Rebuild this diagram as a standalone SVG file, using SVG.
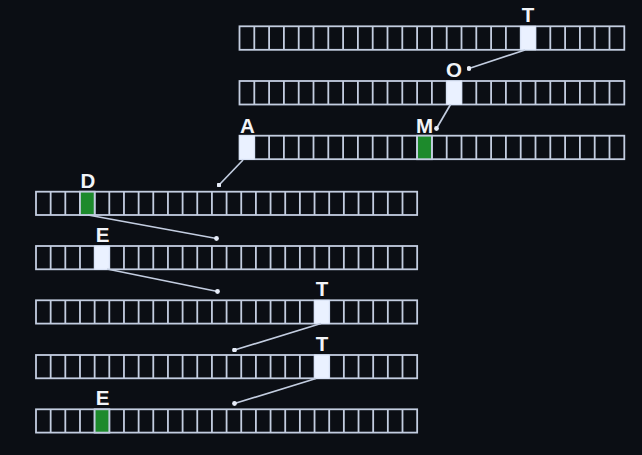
<svg xmlns="http://www.w3.org/2000/svg" xmlns:xlink="http://www.w3.org/1999/xlink" width="642" height="455" viewBox="0 0 642 455">
<style>
.frame{fill:none;stroke:#c3cde0;stroke-width:1.8}
.hw{fill:#eaf1ff;stroke:#dce6f8;stroke-width:1}
.hg{fill:#1d8a2c;stroke:#c3cde0;stroke-width:1.8}
.lbl{font-family:"Liberation Sans","DejaVu Sans",Arial,sans-serif;font-weight:bold;font-size:20.5px;fill:#f2f4f8;text-anchor:middle}
.conn{fill:none;stroke:#c3cde0;stroke-width:1.7;marker-end:url(#dot)}
</style>
<defs>
<marker id="dot" viewBox="0 0 6 6" refX="3" refY="3" markerWidth="2.8" markerHeight="2.8" markerUnits="strokeWidth">
<circle cx="3" cy="3" r="3" fill="#e6ecf8"/>
</marker>
<g id="rowTop">
<rect class="frame" x="239.5" y="0" width="384.8" height="23.5"/>
<path class="frame" d="M254.3 0V23.5M269.1 0V23.5M283.9 0V23.5M298.7 0V23.5M313.5 0V23.5M328.3 0V23.5M343.1 0V23.5M357.9 0V23.5M372.7 0V23.5M387.5 0V23.5M402.3 0V23.5M417.1 0V23.5M431.9 0V23.5M446.7 0V23.5M461.5 0V23.5M476.3 0V23.5M491.1 0V23.5M505.9 0V23.5M520.7 0V23.5M535.5 0V23.5M550.3 0V23.5M565.1 0V23.5M579.9 0V23.5M594.7 0V23.5M609.5 0V23.5"/>
</g>
<g id="rowBot">
<rect class="frame" x="36" y="0" width="381.16" height="23.3"/>
<path class="frame" d="M50.66 0V23.3M65.32 0V23.3M79.98 0V23.3M94.64 0V23.3M109.3 0V23.3M123.96 0V23.3M138.62 0V23.3M153.28 0V23.3M167.94 0V23.3M182.6 0V23.3M197.26 0V23.3M211.92 0V23.3M226.58 0V23.3M241.24 0V23.3M255.9 0V23.3M270.56 0V23.3M285.22 0V23.3M299.88 0V23.3M314.54 0V23.3M329.2 0V23.3M343.86 0V23.3M358.52 0V23.3M373.18 0V23.3M387.84 0V23.3M402.5 0V23.3"/>
</g>
</defs>
<rect x="0" y="0" width="642" height="455" fill="#0b0e14"/>

<g id="row-T-top">
<use xlink:href="#rowTop" href="#rowTop" y="26.3"/>
<rect class="hw" x="520.7" y="26.3" width="14.8" height="23.5"/>
<text class="lbl" x="528.1" y="21.5">T</text>
</g>
<g id="row-O">
<use xlink:href="#rowTop" href="#rowTop" y="81"/>
<rect class="hw" x="446.7" y="81" width="14.8" height="23.5"/>
<text class="lbl" x="454.1" y="76.5">O</text>
</g>
<g id="row-AM">
<use xlink:href="#rowTop" href="#rowTop" y="135.7"/>
<rect class="hw" x="239.5" y="135.7" width="14.8" height="23.5"/>
<rect class="hg" x="417.1" y="135.7" width="14.8" height="23.5"/>
<text class="lbl" x="247.5" y="132.5">A</text>
<text class="lbl" x="424.5" y="132.5">M</text>
</g>
<g id="row-D">
<use xlink:href="#rowBot" href="#rowBot" y="191.7"/>
<rect class="hg" x="79.98" y="191.7" width="14.66" height="23.3"/>
<text class="lbl" x="87.8" y="187.5">D</text>
</g>
<g id="row-E">
<use xlink:href="#rowBot" href="#rowBot" y="246"/>
<rect class="hw" x="94.64" y="246" width="14.66" height="23.3"/>
<text class="lbl" x="102.5" y="242">E</text>
</g>
<g id="row-T1">
<use xlink:href="#rowBot" href="#rowBot" y="300.3"/>
<rect class="hw" x="314.54" y="300.3" width="14.66" height="23.3"/>
<text class="lbl" x="321.9" y="296">T</text>
</g>
<g id="row-T2">
<use xlink:href="#rowBot" href="#rowBot" y="355"/>
<rect class="hw" x="314.54" y="355" width="14.66" height="23.3"/>
<text class="lbl" x="321.9" y="351">T</text>
</g>
<g id="row-E2">
<use xlink:href="#rowBot" href="#rowBot" y="409.3"/>
<rect class="hg" x="94.64" y="409.3" width="14.66" height="23.3"/>
<text class="lbl" x="102.5" y="405">E</text>
</g>

<g id="connectors">
<path class="conn" d="M525 50L469 68.5"/>
<path class="conn" d="M450.5 104.5L436.5 128.5"/>
<path class="conn" d="M243 160L219 185"/>
<path class="conn" d="M88 215L216.5 238.5"/>
<path class="conn" d="M107 269L217.5 291.5"/>
<path class="conn" d="M321 323.5L234.5 350"/>
<path class="conn" d="M316 378.5L234.5 403.5"/>
</g>
</svg>
